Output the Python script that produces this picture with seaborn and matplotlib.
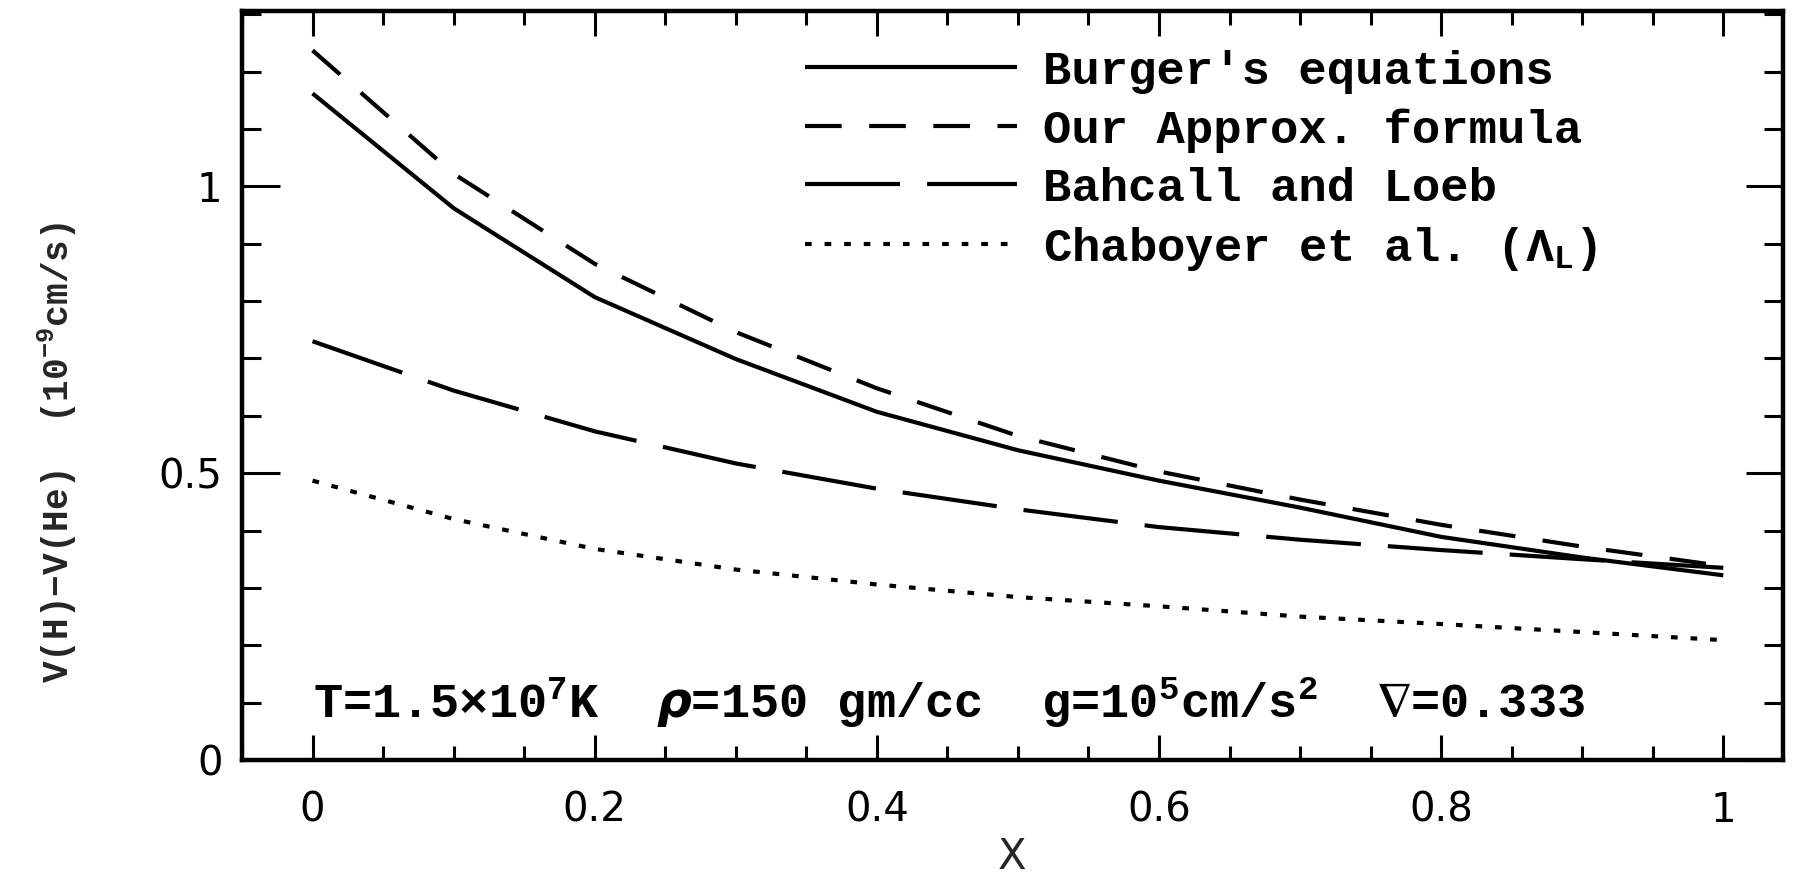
import numpy as np
import pandas as pd
import matplotlib
matplotlib.use("Agg")
import matplotlib.pyplot as plt
from matplotlib.ticker import MultipleLocator
import seaborn as sns

# ---- data ----
x_vals = [0.0, 0.1, 0.2, 0.3, 0.4, 0.5, 0.6, 0.7, 0.8, 0.9, 1.0]
burgers = [1.162, 0.962, 0.807, 0.699, 0.607, 0.540, 0.487, 0.440, 0.389, 0.353, 0.322]
approx = [1.237, 1.022, 0.865, 0.746, 0.648, 0.565, 0.503, 0.454, 0.410, 0.372, 0.338]
bahcall = [0.73, 0.644, 0.573, 0.517, 0.473, 0.437, 0.406, 0.384, 0.366, 0.350, 0.335]
chaboyer = [0.487, 0.42, 0.368, 0.332, 0.306, 0.284, 0.268, 0.25, 0.237, 0.223, 0.209]
series_names = ["Burger's equations", "Our Approx. formula", "Bahcall and Loeb",
                r"Chaboyer et al. ($\Lambda_L$)"]
x_ticks = [0, 0.2, 0.4, 0.6, 0.8, 1]
x_tick_labels = ["0", "0.2", "0.4", "0.6", "0.8", "1"]
y_ticks = [0, 0.5, 1]
y_tick_labels = ["0", "0.5", "1"]

sns.set_theme(style="ticks")
plt.rcParams["font.family"] = ["Liberation Mono", "DejaVu Sans"]
plt.rcParams["font.weight"] = "bold"
plt.rcParams["mathtext.default"] = "regular"

fig = plt.figure(figsize=(18.06, 8.77), dpi=100)
ax = fig.add_axes([0.134, 0.1334, 0.853, 0.8536])

lw = 3.0
styles = [
    (0, ()),
    (0, (8.8, 6.6)),
    (0, (22.8, 6.5)),
    (0, (1.6, 3.1)),
]
all_series = [burgers, approx, bahcall, chaboyer]
for name, ys, ls in zip(series_names, all_series, styles):
    df = pd.DataFrame({"x": x_vals, "y": ys})
    sns.lineplot(data=df, x="x", y="y", ax=ax, color="black", lw=lw,
                 linestyle=ls, label=name)

ax.set_xlim(-0.05, 1.042)
ax.set_ylim(0, 1.305)
ax.set_xticks(x_ticks)
ax.set_xticklabels(x_tick_labels)
ax.set_yticks(y_ticks)
ax.set_yticklabels(y_tick_labels)
ax.xaxis.set_minor_locator(MultipleLocator(0.05))
ax.yaxis.set_minor_locator(MultipleLocator(0.1))
ax.tick_params(which="both", direction="in", top=True, right=True, color="black")
ax.tick_params(axis="x", which="major", length=18, width=2.2, pad=22)
ax.tick_params(axis="x", which="minor", length=10, width=2.2)
ax.tick_params(axis="y", which="major", length=27, width=2.2, pad=14)
ax.tick_params(axis="y", which="minor", length=14, width=2.2)
for lab in ax.get_xticklabels() + ax.get_yticklabels():
    lab.set_fontfamily("DejaVu Sans")
    lab.set_fontweight("normal")
    lab.set_fontsize(29)
    lab.set_color("black")
for s in ax.spines.values():
    s.set_linewidth(3.2)
    s.set_color("black")

ax.set_xlabel("X", fontsize=30, fontfamily="DejaVu Sans", fontweight="normal", labelpad=4)
ax.set_ylabel(r"V(H)$-$V(He)  (10$^{-9}$cm/s)", fontsize=26, fontweight="bold")
ax.yaxis.set_label_coords(-0.106, 0.411)

ax.text(0.0, 0.1, r"T=1.5$\times$10$^{7}$K  $\it{\rho}$=150 gm/cc  g=10$^{5}$cm/s$^{2}$  $\nabla$=0.333",
        fontsize=35, va="center", ha="left", color="black")

leg = ax.legend(loc="upper left", bbox_to_anchor=(0.446, 0.943),
                bbox_transform=fig.transFigure, frameon=False, fontsize=34,
                handlelength=4.47, handletextpad=0.55, labelspacing=0.3,
                borderpad=0, borderaxespad=0)
for t in leg.get_texts():
    t.set_color("black")

fig.savefig("out.png", dpi=100)
